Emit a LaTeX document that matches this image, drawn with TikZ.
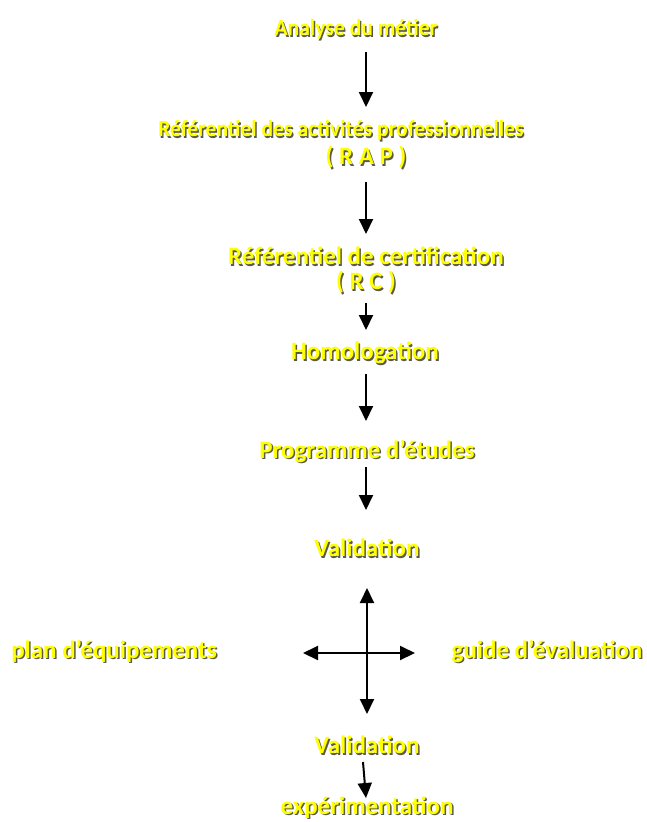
\documentclass[tikz,border=0pt]{standalone}
\usepackage{fontspec}
\usepackage{graphicx}
\setmainfont{Carlito}
\usetikzlibrary{arrows.meta}
\definecolor{txtyellow}{HTML}{FFFF00}
\definecolor{shadowgray}{HTML}{5A5A48}
\newcommand\shd[1]{\makebox[0pt][l]{\hspace{1.5pt}\raisebox{-1.5pt}{\textcolor{shadowgray}{#1}}}#1}
\newcommand\shdn[1]{\scalebox{0.94}[1]{\shd{#1}}}
\tikzset{
  lbl/.style={inner sep=0pt, text=txtyellow, font=\bfseries\fontsize{25}{25}\selectfont, align=center},
  lblsmall/.style={lbl, font=\bfseries\fontsize{23}{26}\selectfont},
  arr/.style={draw=black, line width=2pt, -{Triangle[width=14pt,length=15pt]}},
}
\begin{document}
\begin{tikzpicture}[x=1pt,y=-1pt]
\useasboundingbox (0,0) rectangle (646,822);
\node[lblsmall] (n1) at (356,30) {\shdn{Analyse du métier}};
\node[lblsmall] (n2) at (341,131) {\shdn{Référentiel des activités professionnelles}};
\node[lbl] (n2b) at (366,158) {\shd{( R A P )}};
\node[lbl] (n3) at (366,271) {\shd{Référentiel de certification}\\\shd{( R C )}};
\node[lbl] (n4) at (365,354) {\shd{Homologation}};
\node[lbl] (n5) at (367,452) {\shd{Programme d’études}};
\node[lbl] (n6) at (367,549) {\shd{Validation}};
\node[lbl] (n7) at (114,652) {\shd{plan d’équipements}};
\node[lbl] (n8) at (547,652) {\shd{guide d’évaluation}};
\node[lbl] (n9) at (367,746) {\shd{Validation}};
\node[lbl] (n10) at (367,808) {\shd{expérimentation}};
% arrow end points
\coordinate (a1s) at (366,52);  \coordinate (a1e) at (366,107);
\coordinate (a2s) at (366,182); \coordinate (a2e) at (366,234);
\coordinate (a3s) at (366,303); \coordinate (a3e) at (366,330);
\coordinate (a4s) at (366,374); \coordinate (a4e) at (366,421);
\coordinate (a5s) at (366,467); \coordinate (a5e) at (366,510);
\coordinate (a6s) at (363,762); \coordinate (a6e) at (366,798);
\coordinate (cc) at (367,653);
\coordinate (cu) at (367,588); \coordinate (cd) at (367,714);
\coordinate (cl) at (303,653); \coordinate (cr) at (415,653);
\draw[arr] (a1s) -- (a1e);
\draw[arr] (a2s) -- (a2e);
\draw[arr] (a3s) -- (a3e);
\draw[arr] (a4s) -- (a4e);
\draw[arr] (a5s) -- (a5e);
\draw[arr] (a6s) -- (a6e);
\draw[arr] (cc) -- (cu);
\draw[arr] (cc) -- (cd);
\draw[arr] (cc) -- (cl);
\draw[arr] (cc) -- (cr);
\end{tikzpicture}
\end{document}
